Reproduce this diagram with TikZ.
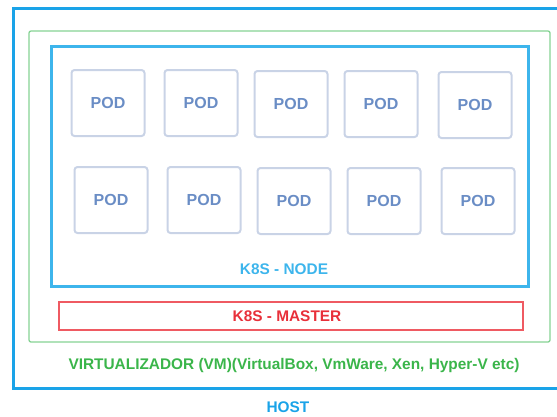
\documentclass[tikz,border=0pt]{standalone}
\usepackage{fontspec}
\setmainfont{Liberation Sans}
\usetikzlibrary{positioning}
\definecolor{hostblue}{HTML}{1AA3E8}
\definecolor{nodeblue}{HTML}{3DB5EC}
\definecolor{podline}{HTML}{C9D3E6}
\definecolor{podtext}{HTML}{6A8DC5}
\definecolor{vmgreen}{HTML}{86D394}
\definecolor{vmtext}{HTML}{3AB54A}
\definecolor{masterred}{HTML}{EF5A62}
\definecolor{mastertext}{HTML}{E8303A}

\begin{document}
\begin{tikzpicture}[x=1pt, y=-1pt,
pod/.style = {draw = podline, line width = 2pt, rounded corners = 3pt,
  minimum width = 73pt, minimum height = 66pt, text = podtext,
  font = \bfseries\fontsize{16}{19}\selectfont},
lbl/.style = {font = \bfseries\fontsize{15.4}{18}\selectfont}]
\useasboundingbox (0,0) rectangle (557,416);
\clip (0,0) rectangle (557,416);
% host
\draw[hostblue, line width = 3pt] (13,8) rectangle (570,388);
\node[lbl, text = hostblue] (host) at (288,407) {HOST};
% virtualizador
\draw[vmgreen, line width = 1.3pt, rounded corners = 2pt] (29,31) rectangle (550,342);
\node[lbl, text = vmtext] (vm) at (294,366) {VIRTUALIZADOR (VM)(VirtualBox, VmWare, Xen, Hyper-V etc)};
% k8s node
\draw[nodeblue, line width = 3pt] (51,46) rectangle (528,286);
\node[lbl, text = nodeblue] (k8snode) at (284,269) {K8S - NODE};
% k8s master
\draw[masterred, line width = 2.5pt] (59,302) rectangle (523,330);
\node[lbl, text = mastertext] (master) at (287,316) {K8S - MASTER};
% pods
\foreach \x/\y [count=\i] in {108/103, 201/103, 291/104, 381/104, 475/105,
                              111/200, 204/200, 294/201, 384/201, 478/201}
  \node[pod] (pod\i) at (\x,\y) {POD};
\end{tikzpicture}
\end{document}
